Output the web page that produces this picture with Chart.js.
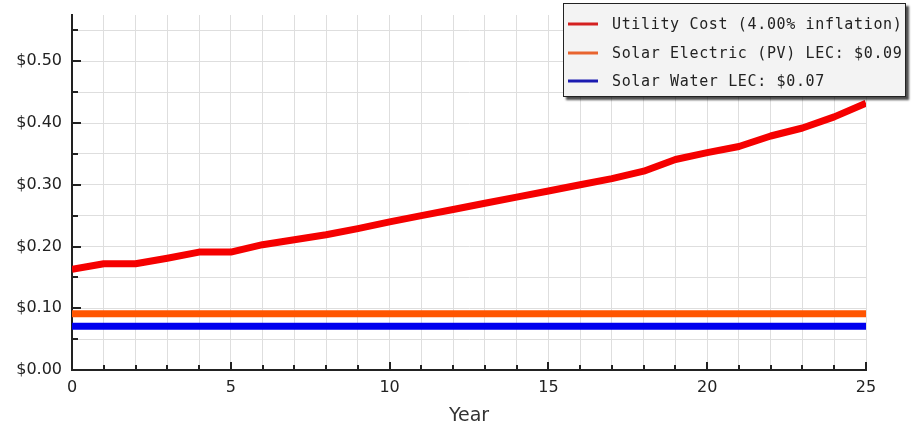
<!DOCTYPE html>
<html><head><meta charset="utf-8">
<script src="https://cdn.jsdelivr.net/npm/chart.js@4/dist/chart.umd.min.js"></script>
<style>html,body{margin:0;padding:0;background:#fff;}#wrap{width:912px;height:426px;}</style>
</head><body><div id="wrap"><canvas id="c" width="912" height="426"></canvas></div>
<script>
const years = [0,1,2,3,4,5,6,7,8,9,10,11,12,13,14,15,16,17,18,19,20,21,22,23,24,25];
const utilityCost = [0.163,0.172,0.172,0.181,0.191,0.191,0.203,0.211,0.219,0.229,0.240,0.250,0.260,0.270,0.280,0.290,0.300,0.310,0.322,0.341,0.352,0.362,0.379,0.392,0.410,0.432];
const solarElectric = [0.091,0.091,0.091,0.091,0.091,0.091,0.091,0.091,0.091,0.091,0.091,0.091,0.091,0.091,0.091,0.091,0.091,0.091,0.091,0.091,0.091,0.091,0.091,0.091,0.091,0.091];
const solarWater = [0.071,0.071,0.071,0.071,0.071,0.071,0.071,0.071,0.071,0.071,0.071,0.071,0.071,0.071,0.071,0.071,0.071,0.071,0.071,0.071,0.071,0.071,0.071,0.071,0.071,0.071];
const seriesLabels = ["Utility Cost (4.00% inflation)", "Solar Electric (PV) LEC: $0.09", "Solar Water LEC: $0.07"];
const xTitle = "Year";

const toPts = arr => arr.map((v,i)=>({x:years[i], y:v}));

const innerTicks = {
  id:'innerTicks',
  afterDatasetsDraw(chart){
    const {ctx, chartArea:a, scales:{x,y}} = chart;
    ctx.save();
    ctx.strokeStyle='#222'; ctx.lineWidth=2;
    y.ticks.forEach(t=>{
      const py = Math.round(y.getPixelForValue(t.value));
      const len = t.label ? 9 : 6;
      ctx.beginPath(); ctx.moveTo(a.left, py); ctx.lineTo(a.left+len, py); ctx.stroke();
    });
    x.ticks.forEach(t=>{
      const px = Math.round(x.getPixelForValue(t.value));
      const len = t.label!=='' ? 8 : 5;
      ctx.beginPath(); ctx.moveTo(px, a.bottom); ctx.lineTo(px, a.bottom-len); ctx.stroke();
    });
    ctx.restore();
  }
};

const boxLegend = {
  id:'boxLegend',
  afterDraw(chart){
    const ctx = chart.ctx;
    const x=563, y=3, w=343, h=94;
    ctx.save();
    ctx.shadowColor='rgba(0,0,0,0.7)'; ctx.shadowOffsetX=3; ctx.shadowOffsetY=3; ctx.shadowBlur=2;
    ctx.fillStyle='#f3f3f3'; ctx.fillRect(x,y,w,h);
    ctx.shadowColor='transparent';
    ctx.strokeStyle='#222'; ctx.lineWidth=1; ctx.strokeRect(x+0.5,y+0.5,w-1,h-1);
    ctx.font='15px "DejaVu Sans Mono"';
    try{ ctx.letterSpacing='0.65px'; }catch(e){}
    chart.data.datasets.forEach((ds,i)=>{
      const cy = Math.round(y+21+i*28.7);
      ctx.strokeStyle = ds.legendColor; ctx.lineWidth=3;
      ctx.beginPath(); ctx.moveTo(x+5,cy); ctx.lineTo(x+35,cy); ctx.stroke();
      ctx.fillStyle='#222'; ctx.textBaseline='middle'; ctx.textAlign='left';
      ctx.fillText(ds.label, x+49, cy+1);
    });
    ctx.restore();
  }
};

new Chart(document.getElementById('c'), {
  type:'line',
  data:{
    datasets:[
      {label:seriesLabels[0], data:toPts(utilityCost), borderColor:'#f50000', legendColor:'#d42020', borderWidth:7, pointRadius:0, tension:0, borderJoinStyle:'round'},
      {label:seriesLabels[1], data:toPts(solarElectric), borderColor:'#ff5500', legendColor:'#e8642e', borderWidth:7, pointRadius:0, tension:0},
      {label:seriesLabels[2], data:toPts(solarWater), borderColor:'#0000ee', legendColor:'#1a1ab0', borderWidth:7, pointRadius:0, tension:0}
    ]
  },
  options:{
    responsive:false, animation:false, devicePixelRatio:1,
    layout:{padding:{top:15,right:46,left:0,bottom:0}},
    plugins:{legend:{display:false}, tooltip:{enabled:false}},
    scales:{
      x:{
        type:'linear', min:0, max:25,
        afterFit(s){ s.height=56; },
        grid:{color:'#dedede', lineWidth:1, drawTicks:false},
        border:{color:'#222', width:2},
        ticks:{stepSize:1, autoSkip:false, maxRotation:0, padding:8, color:'#222',
          font:{family:'DejaVu Sans', size:16},
          callback:v=> (v%5===0 ? String(v) : '')},
        title:{display:true, text:xTitle, color:'#333', font:{family:'DejaVu Sans', size:19, lineHeight:1}, padding:{top:0,bottom:0}}
      },
      y:{
        min:0, max:0.575,
        afterFit(s){ s.width=72; s.paddingTop=0; s.paddingBottom=0; },
        grid:{color:'#dedede', lineWidth:1, drawTicks:false},
        border:{color:'#222', width:2},
        ticks:{stepSize:0.05, includeBounds:false, padding:10, color:'#222',
          font:{family:'DejaVu Sans', size:16},
          callback:v=> (Math.round(v*100)%10===0 ? '$'+v.toFixed(2) : '')}
      }
    }
  },
  plugins:[innerTicks, boxLegend]
});
</script></body></html>
